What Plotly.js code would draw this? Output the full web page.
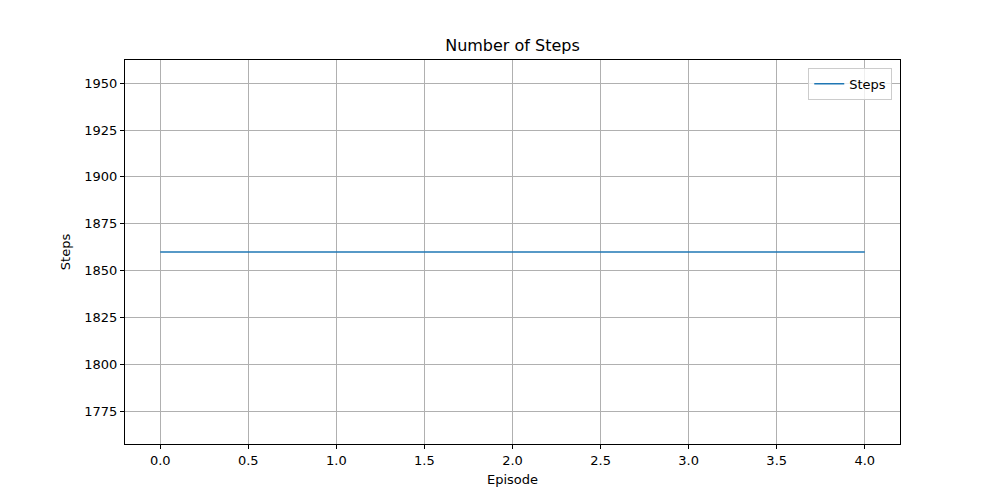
<!DOCTYPE html>
<html>
<head>
<meta charset="utf-8">
<script src="https://cdn.plot.ly/plotly-3.0.1.min.js"></script>
<style>body{margin:0;background:#fff;}</style>
</head>
<body>
<div id="chart" style="width:1000px;height:500px;"></div>
<script>
const episodes = [0, 1, 2, 3, 4];
const steps = [1860, 1860, 1860, 1860, 1860];

const trace = {
  x: episodes,
  y: steps,
  type: 'scatter',
  mode: 'lines',
  name: 'Steps',
  line: { color: '#1f77b4', width: 1.5 }
};

const axisStyle = {
  showgrid: true,
  gridcolor: '#b0b0b0',
  gridwidth: 1,
  showline: true,
  linecolor: '#000',
  linewidth: 1,
  mirror: true,
  ticks: 'outside',
  ticklen: 4,
  tickcolor: '#000',
  zeroline: false,
  tickfont: { size: 13, color: '#000' }
};

const layout = {
  width: 1000,
  height: 500,
  margin: { l: 125, r: 100, t: 60, b: 56 },
  paper_bgcolor: '#fff',
  plot_bgcolor: '#fff',
  font: { family: 'DejaVu Sans', color: '#000' },
  title: { text: 'Number of Steps', font: { size: 16 }, x: 0.5125, xanchor: 'center', y: 0.91, yanchor: 'middle' },
  xaxis: Object.assign({}, axisStyle, {
    range: [-0.2, 4.2],
    tickvals: [0, 0.5, 1, 1.5, 2, 2.5, 3, 3.5, 4],
    ticktext: ['0.0', '0.5', '1.0', '1.5', '2.0', '2.5', '3.0', '3.5', '4.0'],
    title: { text: 'Episode', font: { size: 13 }, standoff: 8 }
  }),
  yaxis: Object.assign({}, axisStyle, {
    range: [1757.7, 1962.3],
    tickvals: [1775, 1800, 1825, 1850, 1875, 1900, 1925, 1950],
    title: { text: 'Steps', font: { size: 13 }, standoff: 10 }
  }),
  showlegend: true,
  legend: {
    x: 0.99, xanchor: 'right', y: 0.98, yanchor: 'top',
    bordercolor: '#ccc', borderwidth: 1, bgcolor: 'rgba(255,255,255,0.8)',
    font: { size: 13 }
  }
};

Plotly.newPlot('chart', [trace], layout, { displayModeBar: false });
</script>
</body>
</html>
